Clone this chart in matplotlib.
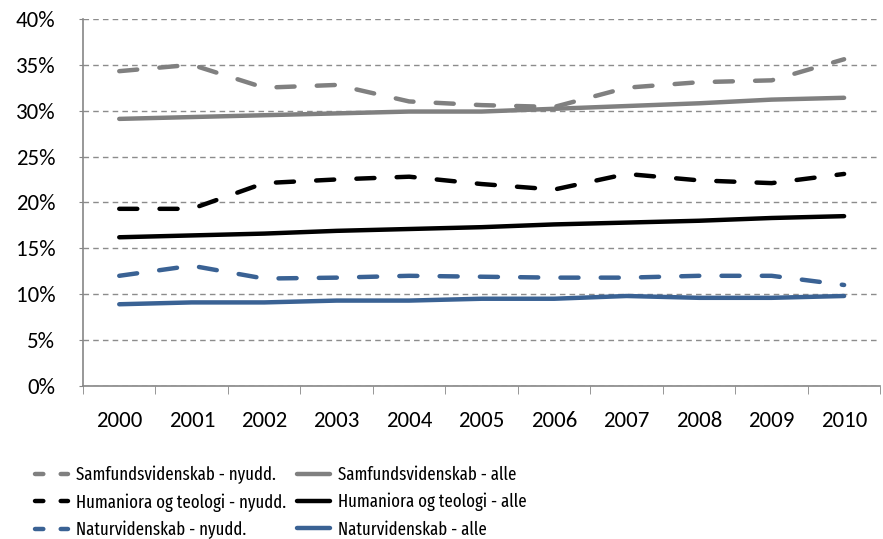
import matplotlib
matplotlib.use("Agg")
import matplotlib.pyplot as plt
from matplotlib import font_manager
from matplotlib.lines import Line2D
from matplotlib.ticker import FixedLocator, PercentFormatter

plt.rcParams['lines.scale_dashes'] = False

years = ['2000', '2001', '2002', '2003', '2004', '2005', '2006', '2007', '2008', '2009', '2010']

samf_nyudd = [34.3, 35.0, 32.5, 32.8, 31.0, 30.6, 30.4, 32.5, 33.1, 33.3, 35.6]
samf_alle = [29.1, 29.3, 29.5, 29.7, 29.9, 29.9, 30.2, 30.5, 30.8, 31.2, 31.4]
hum_nyudd = [19.3, 19.3, 22.1, 22.5, 22.8, 22.0, 21.4, 23.1, 22.4, 22.1, 23.1]
hum_alle = [16.2, 16.4, 16.6, 16.9, 17.1, 17.3, 17.6, 17.8, 18.0, 18.3, 18.5]
nat_nyudd = [12.0, 13.1, 11.7, 11.8, 12.0, 11.9, 11.8, 11.8, 12.0, 12.0, 11.0]
nat_alle = [8.9, 9.1, 9.1, 9.3, 9.3, 9.5, 9.5, 9.8, 9.6, 9.6, 9.8]

# pick fonts close to the original (Calibri, squeezed legend)
avail = {f.name for f in font_manager.fontManager.ttflist}
def pick(cands):
    return next((c for c in cands if c in avail), 'DejaVu Sans')

tick_font = pick(['Carlito', 'Calibri', 'Lato', 'Open Sans'])
leg_font = pick(['Fira Sans Extra Condensed', 'Sofia Sans Extra Condensed',
                 'Encode Sans Compressed', 'Barlow Condensed', 'Asap Condensed',
                 'Roboto Condensed', 'Liberation Sans Narrow', 'Carlito'])
tick_size = 16.5 if tick_font in ('Carlito', 'Calibri') else 15

grey = '#808080'
blue = '#3A6294'
dash = (0, (13, 16))
leg_dash = (0, (6, 12.5))

fig = plt.figure(figsize=(8.83, 5.39), dpi=100)
ax = fig.add_axes([0.094, 0.284, 0.903, 0.681])

x = list(range(len(years)))
lw = 3.2
series = [
    (samf_nyudd, grey, dash, 'Samfundsvidenskab - nyudd.'),
    (hum_nyudd, 'black', dash, 'Humaniora og teologi - nyudd.'),
    (nat_nyudd, blue, dash, 'Naturvidenskab - nyudd.'),
    (samf_alle, grey, '-', 'Samfundsvidenskab - alle'),
    (hum_alle, 'black', '-', 'Humaniora og teologi - alle'),
    (nat_alle, blue, '-', 'Naturvidenskab - alle'),
]
handles = []
for vals, col, ls, lab in series:
    ax.plot(x, vals, color=col, linestyle=ls, linewidth=lw,
            dash_capstyle='round', solid_capstyle='round', zorder=3)
    handles.append(Line2D([], [], color=col, linewidth=lw,
                          linestyle=leg_dash if ls != '-' else '-',
                          dash_capstyle='round', solid_capstyle='round', label=lab))

ax.set_xlim(-0.5, len(years) - 0.5)
ax.set_ylim(0, 40)
ax.set_yticks(range(0, 41, 5))
ax.yaxis.set_major_formatter(PercentFormatter(decimals=0))
ax.set_xticks(x)
ax.set_xticklabels(years)
ax.xaxis.set_minor_locator(FixedLocator([i - 0.5 for i in range(len(years) + 1)]))
ax.tick_params(axis='x', which='major', length=0, labelsize=tick_size, pad=18)
ax.tick_params(axis='x', which='minor', length=6, color='#868686', direction='out')
ax.tick_params(axis='y', length=3, color='#868686', labelsize=tick_size, pad=17)
for lab in ax.get_xticklabels() + ax.get_yticklabels():
    lab.set_fontfamily(tick_font)

ax.grid(axis='y', color='#8c8c8c', linestyle=(0, (4, 3)), linewidth=1)
ax.set_axisbelow(True)
for s in ['top', 'right']:
    ax.spines[s].set_visible(False)
for s in ['left', 'bottom']:
    ax.spines[s].set_color('#868686')
    ax.spines[s].set_linewidth(1.2)

# legend font: a bit taller than a pure width match, the original text is squeezed
renderer = fig.canvas.get_renderer()
probe = fig.text(0, 0, 'Humaniora og teologi - nyudd.', fontsize=10, family=leg_font)
w10 = probe.get_window_extent(renderer).width
probe.remove()
leg_size = min(10 * 183 / w10 * 1.15, 18)
fs_px = leg_size * 100 / 72
probe = fig.text(0, 0, 'Humaniora og teologi - nyudd.', fontsize=leg_size, family=leg_font)
ext = probe.get_window_extent(renderer)
probe.remove()
text_w, text_h = ext.width, ext.height

top_px = 475 - text_h / 2
fig.legend(handles=handles, loc='upper left', bbox_to_anchor=(0.0395, 1 - top_px / 539), ncol=2,
           frameon=False, prop={'family': leg_font, 'size': leg_size},
           handlelength=33 / fs_px, handletextpad=8 / fs_px,
           columnspacing=max(297 - 76 - text_w, 6) / fs_px,
           labelspacing=max(27.5 - text_h, 0) / fs_px, borderaxespad=0, borderpad=0)

fig.savefig('out.png', dpi=100)
